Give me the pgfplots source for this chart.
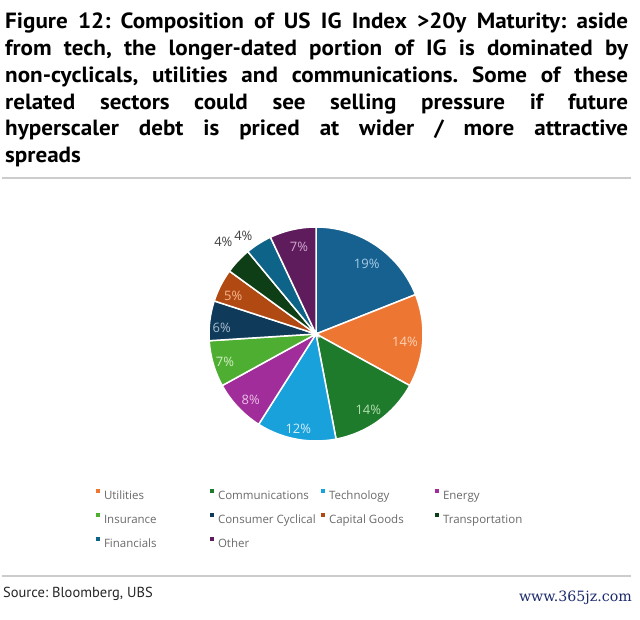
\documentclass[border=0pt]{standalone}
\usepackage{pgfplots}
\pgfplotsset{compat=1.18}
\usepackage{fontspec}
\setmainfont{PT Sans}
\newfontfamily\titlefont{PT Sans}[FakeStretch=1.05]
\newfontfamily\lblfont{Open Sans}
\newfontfamily\wmfont{DejaVu Serif}
\definecolor{cNon}{HTML}{166190}
\definecolor{cUti}{HTML}{EE7633}
\definecolor{cCom}{HTML}{1E7B2C}
\definecolor{cTec}{HTML}{19A1DC}
\definecolor{cEne}{HTML}{A02D9A}
\definecolor{cIns}{HTML}{4EAE31}
\definecolor{cCon}{HTML}{0F3A5A}
\definecolor{cCap}{HTML}{B14912}
\definecolor{cTra}{HTML}{0E3E15}
\definecolor{cFin}{HTML}{0E6388}
\definecolor{cOth}{HTML}{5F1C5C}
\definecolor{lNon}{HTML}{A9CCE6}
\definecolor{lUti}{HTML}{FBD3B8}
\definecolor{lCom}{HTML}{B5E0B0}
\definecolor{lTec}{HTML}{D5EEFA}
\definecolor{lEne}{HTML}{ECC0E6}
\definecolor{lIns}{HTML}{D4EFC8}
\definecolor{lCon}{HTML}{A9BED0}
\definecolor{lCap}{HTML}{F5B890}
\definecolor{lOth}{HTML}{D2A8D0}
\definecolor{legtext}{HTML}{6A6A6A}
\definecolor{rulegray}{HTML}{CCCCCC}
\definecolor{wmblue}{HTML}{1B2A6B}
\newcommand{\legent}[2]{\makebox[#1][l]{\rule[-7pt]{0pt}{24pt}\hspace{4pt}#2}}
\begin{document}
\frenchspacing
\begin{tikzpicture}
\useasboundingbox (0,0) rectangle (640pt,-620pt);
\fill[white] (0,0) rectangle (640pt,-620pt);
\node[anchor=north west, inner sep=0pt, text width=623pt, align=justify,
  font=\titlefont\fontsize{22}{26.7}\selectfont\bfseries\frenchspacing, text=black] at (5pt,-13pt)
  {Figure 12: Composition of US IG Index >20y Maturity: aside\linebreak
   from tech, the longer-dated portion of IG is dominated by\linebreak
   non-cyclicals, utilities and communications. Some of these\linebreak
   related sectors could see selling pressure if future\linebreak
   hyperscaler debt is priced at wider / more attractive\linebreak
   spreads};
\draw[rulegray, line width=1.3pt] (2pt,-178pt) -- (631pt,-178pt);
\draw[rulegray, line width=1.3pt] (2pt,-576pt) -- (631pt,-576pt);
\node[anchor=base west, inner sep=0pt, font=\fontsize{14.5}{17}\selectfont, text=black!85]
  at (3pt,-597pt) {Source: Bloomberg, UBS};
\node[anchor=base east, inner sep=0pt, font=\wmfont\fontsize{14.2}{16}\selectfont, text=wmblue]
  at (632pt,-601pt) {www.365jz.com};
\begin{axis}[
  at={(316pt,-334pt)}, anchor=center,
  scale only axis, width=267.5pt, height=267.5pt,
  xmin=-1.25, xmax=1.25, ymin=-1.25, ymax=1.25,
  hide axis, clip=false,
  legend columns=4,
  legend image code/.code={\fill[#1,draw=none] (0pt,-2pt) rectangle (4pt,2pt);},
  legend style={at={(axis description cs:-0.3224,-0.0533)}, anchor=north west,
    draw=none, fill=none, inner sep=0pt, outer sep=0pt, row sep=5.5pt,
    font=\lblfont\fontsize{11.5}{14}\selectfont, text=legtext,
    cells={anchor=west}, nodes={inner sep=0pt},
    /tikz/every even column/.append style={column sep=0pt}},
  slice/.style={draw=white, line width=1.5pt, samples=60},
]
\addplot[slice, forget plot, fill=cNon, domain=0:19]  ({sin(3.6*x)},{cos(3.6*x)}) -- (axis cs:0,0) -- cycle;
\addplot[slice, fill=cUti, domain=19:33] ({sin(3.6*x)},{cos(3.6*x)}) -- (axis cs:0,0) -- cycle;
\addlegendentry{\legent{110pt}{Utilities}}
\addplot[slice, fill=cCom, domain=33:47] ({sin(3.6*x)},{cos(3.6*x)}) -- (axis cs:0,0) -- cycle;
\addlegendentry{\legent{107pt}{Communications}}
\addplot[slice, fill=cTec, domain=47:59] ({sin(3.6*x)},{cos(3.6*x)}) -- (axis cs:0,0) -- cycle;
\addlegendentry{\legent{110pt}{Technology}}
\addplot[slice, fill=cEne, domain=59:67] ({sin(3.6*x)},{cos(3.6*x)}) -- (axis cs:0,0) -- cycle;
\addlegendentry{\legent{100pt}{Energy}}
\addplot[slice, fill=cIns, domain=67:74] ({sin(3.6*x)},{cos(3.6*x)}) -- (axis cs:0,0) -- cycle;
\addlegendentry{\legent{110pt}{Insurance}}
\addplot[slice, fill=cCon, domain=74:80] ({sin(3.6*x)},{cos(3.6*x)}) -- (axis cs:0,0) -- cycle;
\addlegendentry{\legent{107pt}{Consumer Cyclical}}
\addplot[slice, fill=cCap, domain=80:85] ({sin(3.6*x)},{cos(3.6*x)}) -- (axis cs:0,0) -- cycle;
\addlegendentry{\legent{110pt}{Capital Goods}}
\addplot[slice, fill=cTra, domain=85:89] ({sin(3.6*x)},{cos(3.6*x)}) -- (axis cs:0,0) -- cycle;
\addlegendentry{\legent{100pt}{Transportation}}
\addplot[slice, fill=cFin, domain=89:93] ({sin(3.6*x)},{cos(3.6*x)}) -- (axis cs:0,0) -- cycle;
\addlegendentry{\legent{110pt}{Financials}}
\addplot[slice, fill=cOth, domain=93:100] ({sin(3.6*x)},{cos(3.6*x)}) -- (axis cs:0,0) -- cycle;
\addlegendentry{\legent{107pt}{Other}}
\begin{scope}[every node/.style={font=\lblfont\fontsize{13}{15}\selectfont, inner sep=0pt}]
\node[text=lNon] at (axis cs:0.474,0.651) {19\%};
\node[text=lUti] at (axis cs:0.832,-0.075) {14\%};
\node[text=lCom] at (axis cs:0.489,-0.710) {14\%};
\node[text=lTec] at (axis cs:-0.165,-0.888) {12\%};
\node[text=lEne] at (axis cs:-0.610,-0.617) {8\%};
\node[text=lIns] at (axis cs:-0.850,-0.259) {7\%};
\node[text=lCon] at (axis cs:-0.881,0.059) {6\%};
\node[text=lCap] at (axis cs:-0.773,0.358) {5\%};
\node[text=black!75] at (axis cs:-0.866,0.863) {4\%};
\node[text=black!75] at (axis cs:-0.679,0.919) {4\%};
\node[text=lOth] at (axis cs:-0.159,0.816) {7\%};
\end{scope}
\end{axis}
\end{tikzpicture}
\end{document}
